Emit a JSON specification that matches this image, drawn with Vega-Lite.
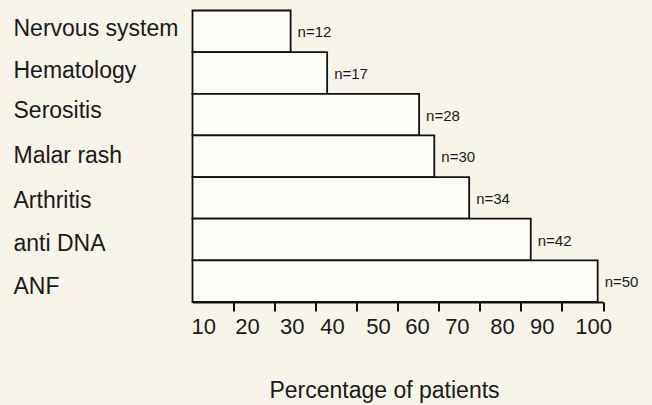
{
  "$schema": "https://vega.github.io/schema/vega-lite/v6.json",
  "width": 410.5,
  "height": 291.5,
  "autosize": {"type": "none"},
  "padding": {"left": 192.5, "top": 10.5, "right": 49, "bottom": 103},
  "background": "#f7f4ea",
  "config": {
    "view": {"stroke": null},
    "font": "Liberation Sans",
    "axis": {"grid": false, "labelColor": "#1a1a1a", "titleColor": "#1a1a1a", "titleFontWeight": "normal", "labelFont": "Liberation Sans", "titleFont": "Liberation Sans"}
  },
  "data": {
    "values": [
      {"feature": "Nervous system", "pct": 23.9, "n": 12},
      {"feature": "Hematology", "pct": 32.8, "n": 17},
      {"feature": "Serositis", "pct": 55.2, "n": 28},
      {"feature": "Malar rash", "pct": 58.9, "n": 30},
      {"feature": "Arthritis", "pct": 67.4, "n": 34},
      {"feature": "anti DNA", "pct": 82.4, "n": 42},
      {"feature": "ANF", "pct": 98.7, "n": 50}
    ]
  },
  "transform": [{"calculate": "'n=' + datum.n", "as": "nlabel"}],
  "layer": [
    {
      "mark": {"type": "bar", "fill": "#fdfcf6", "stroke": "#111111", "strokeWidth": 1.8, "cornerRadius": 0},
      "encoding": {
        "y": {
          "field": "feature", "type": "nominal", "sort": null,
          "scale": {"paddingInner": 0, "paddingOuter": 0},
          "axis": {
            "title": null, "ticks": false, "tickSize": 0, "domain": false,
            "labelAlign": "left", "labelPadding": 179.5, "labelFontSize": 23, "labelLimit": 300,
            "labelBaseline": "middle",
            "labelOffset": {
              "condition": [
                {"test": "datum.value == 'Nervous system'", "value": -2},
                {"test": "datum.value == 'Hematology'", "value": -2},
                {"test": "datum.value == 'Serositis'", "value": -4},
                {"test": "datum.value == 'Arthritis'", "value": 3},
                {"test": "datum.value == 'anti DNA'", "value": 4},
                {"test": "datum.value == 'ANF'", "value": 6}
              ],
              "value": 0
            }
          }
        },
        "x": {
          "field": "pct", "type": "quantitative",
          "scale": {"domain": [0, 100], "nice": false, "zero": true},
          "axis": {
            "orient": "bottom", "values": [10, 20, 30, 40, 50, 60, 70, 80, 90, 100],
            "labels": false, "title": null, "ticks": true, "tickSize": 9, "tickWidth": 2, "tickColor": "#111111",
            "domain": true, "domainColor": "#111111", "domainWidth": 2
          }
        }
      }
    },
    {
      "mark": {"type": "text", "align": "left", "baseline": "middle", "dx": 7, "dy": 1, "fontSize": 15, "font": "Liberation Sans", "color": "#1a1a1a"},
      "encoding": {
        "y": {"field": "feature", "type": "nominal", "sort": null},
        "x": {
          "field": "pct", "type": "quantitative",
          "axis": {
            "orient": "bottom",
            "values": [2.6, 13.3, 24.2, 34, 45.2, 54.7, 64.4, 75.4, 85.1, 97.6],
            "labelExpr": "round((datum.value - 2.6) / 10.56) * 10 + 10",
            "labelFlush": false, "labelOverlap": false,
            "ticks": false, "domain": false, "labelPadding": 14, "labelFontSize": 22,
            "title": "Percentage of patients", "titleFontSize": 23, "titlePadding": 42, "titleX": 191.5
          }
        },
        "text": {"field": "nlabel"}
      }
    }
  ],
  "resolve": {"axis": {"x": "independent"}}
}
